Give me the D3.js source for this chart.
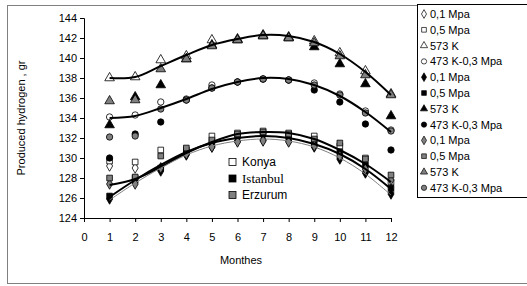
<!DOCTYPE html>
<meta charset="utf-8">
<head>
  <title>Produced hydrogen by month</title>
  <script src="https://cdn.jsdelivr.net/npm/d3@7"></script>
  <style>
    body { margin: 0; background: #fff; }
    text { font-family: "Liberation Sans", Arial, sans-serif; font-size: 11px; fill: #000; }
    .axis path, .axis line { stroke: #000; }
  </style>
</head>
<body>
<div id="chart"></div>
<script>
  // data
  var months = [1, 2, 3, 4, 5, 6, 7, 8, 9, 10, 11, 12];
  var xTicks = [0, 1, 2, 3, 4, 5, 6, 7, 8, 9, 10, 11, 12];
  var yTicks = [124, 126, 128, 130, 132, 134, 136, 138, 140, 142, 144];

  // Konya (white markers)
  var konyaP01 = [129.2, 129.0, 129.0, 130.4, 131.2, 131.7, 131.8, 131.8, 131.3, 130.1, 128.6, 126.6];
  var konyaP05 = [129.7, 129.6, 130.8, 130.8, 132.2, 132.5, 132.7, 132.5, 132.2, 131.2, 130.0, 127.6];
  var konyaK573 = [138.0, 138.1, 139.8, 140.2, 141.8, 141.9, 142.3, 142.1, 141.7, 140.5, 138.7, 136.4];
  var konyaK473 = [134.1, 134.3, 135.6, 135.9, 137.3, 137.6, 137.9, 137.8, 137.5, 136.4, 134.7, 132.8];
  // Istanbul (black markers)
  var istanbulP01 = [125.9, 127.6, 128.7, 130.3, 131.1, 131.7, 131.8, 131.7, 131.1, 129.9, 128.5, 126.4];
  var istanbulP05 = [126.2, 128.0, 129.0, 130.6, 131.6, 132.2, 132.4, 132.2, 131.6, 130.6, 129.3, 127.0];
  var istanbulK573 = [133.3, 136.1, 137.3, 139.9, 141.3, 141.8, 142.2, 142.0, 141.1, 139.4, 137.4, 134.2];
  var istanbulK473 = [130.0, 132.4, 133.6, 135.8, 137.0, 137.6, 137.9, 137.8, 136.8, 135.6, 133.4, 130.8];
  // Erzurum (grey markers)
  var erzurumP01 = [127.4, 127.4, 129.0, 130.4, 131.1, 131.6, 131.7, 131.6, 131.2, 130.2, 128.9, 127.8];
  var erzurumP05 = [128.0, 128.1, 130.2, 131.0, 131.8, 132.4, 132.6, 132.4, 131.9, 131.5, 129.9, 128.3];
  var erzurumK573 = [135.7, 135.8, 138.9, 139.9, 141.2, 141.8, 142.2, 142.0, 141.5, 140.2, 138.3, 136.3];
  var erzurumK473 = [132.1, 132.2, 134.9, 135.8, 137.0, 137.6, 137.9, 137.8, 137.3, 136.3, 134.5, 132.7];

  // trend curves
  var trendK573 = [138.0, 138.1, 139.2, 140.3, 141.3, 141.9, 142.3, 142.2, 141.6, 140.4, 138.6, 136.3];
  var trendK473 = [134.0, 134.2, 135.0, 135.9, 136.9, 137.6, 138.0, 137.9, 137.3, 136.2, 134.6, 132.6];
  var trendLowA = [127.3, 127.9, 129.1, 130.5, 131.6, 132.4, 132.6, 132.5, 131.9, 130.8, 129.4, 127.6];
  var trendLowB = [126.1, 127.8, 129.3, 130.6, 131.5, 132.0, 132.2, 132.0, 131.4, 130.4, 128.9, 126.9];
  var trendLowC = [125.8, 127.5, 129.0, 130.3, 131.2, 131.7, 131.9, 131.7, 131.1, 130.0, 128.4, 126.3];

  var conditions = ["0,1 Mpa", "0,5 Mpa", "573 K", "473 K-0,3 Mpa"];
  var cities = ["Konya", "Istanbul", "Erzurum"];

  var w = 527, h = 286;
  var svg = d3.select("#chart").append("svg").attr("width", w).attr("height", h);

  var x = d3.scaleLinear().domain([0, 12]).range([84, 391]);
  var y = d3.scaleLinear().domain([124, 144]).range([218, 18]);

  var cityFill = { "Konya": "#fff", "Istanbul": "#000", "Erzurum": "#808080" };
  var symbols = [d3.symbolDiamond, d3.symbolSquare, d3.symbolTriangle, d3.symbolCircle];

  var series = [
    { city: "Konya", c: 0, values: konyaP01 }, { city: "Konya", c: 1, values: konyaP05 },
    { city: "Konya", c: 2, values: konyaK573 }, { city: "Konya", c: 3, values: konyaK473 },
    { city: "Istanbul", c: 0, values: istanbulP01 }, { city: "Istanbul", c: 1, values: istanbulP05 },
    { city: "Istanbul", c: 2, values: istanbulK573 }, { city: "Istanbul", c: 3, values: istanbulK473 },
    { city: "Erzurum", c: 0, values: erzurumP01 }, { city: "Erzurum", c: 1, values: erzurumP05 },
    { city: "Erzurum", c: 2, values: erzurumK573 }, { city: "Erzurum", c: 3, values: erzurumK473 }
  ];

  // outer frame
  svg.append("rect").attr("x", 7.5).attr("y", 5.5).attr("width", 530).attr("height", 278)
    .attr("fill", "none").attr("stroke", "#808080");

  // axes
  svg.append("g").attr("class", "axis").attr("transform", "translate(84,0)")
    .call(d3.axisLeft(y).tickValues(yTicks).tickSize(4).tickPadding(3));
  svg.append("g").attr("class", "axis").attr("transform", "translate(0,218)")
    .call(d3.axisBottom(x).tickValues(xTicks).tickSize(4).tickPadding(11));
  svg.selectAll(".axis .domain").attr("stroke-width", 1);

  // markers
  var sym = d3.symbol();
  series.forEach(function (s) {
    svg.append("g").selectAll("path").data(s.values).enter().append("path")
      .attr("transform", function (d, i) { return "translate(" + x(months[i]) + "," + y(d) + ")"; })
      .attr("d", sym.type(symbols[s.c]).size(s.c === 2 ? 40 : 32)())
      .attr("fill", cityFill[s.city]).attr("stroke", "#000").attr("stroke-width", 0.8);
  });

  // trend curves
  var line = d3.line().x(function (d, i) { return x(months[i]); }).y(function (d) { return y(d); })
    .curve(d3.curveCatmullRom);
  [[trendK573, "#000", 2], [trendK473, "#000", 2], [trendLowA, "#000", 2],
   [trendLowB, "#000", 2], [trendLowC, "#808080", 1]].forEach(function (t) {
    svg.append("path").attr("d", line(t[0])).attr("fill", "none")
      .attr("stroke", t[1]).attr("stroke-width", t[2]);
  });

  // axis titles
  svg.append("text").attr("transform", "translate(25,118) rotate(-90)")
    .attr("text-anchor", "middle").text("Produced hydrogen , gr");
  svg.append("text").attr("x", 241).attr("y", 264).attr("text-anchor", "middle").text("Monthes");

  // city legend inside plot
  var cl = svg.append("g");
  cities.forEach(function (c, i) {
    var yy = 162 + i * 16.5;
    cl.append("rect").attr("x", 229).attr("y", yy - 3.5).attr("width", 7).attr("height", 7)
      .attr("fill", cityFill[c]).attr("stroke", "#000").attr("stroke-width", 0.8);
    cl.append("text").attr("x", 242).attr("y", yy + 4)
      .style("font-family", c === "Istanbul" ? "'Liberation Serif', serif" : null)
      .style("font-size", c === "Istanbul" ? "13px" : "12px").text(c);
  });

  // series legend on the right
  svg.append("rect").attr("x", 417.5).attr("y", 4.5).attr("width", 120).attr("height", 193)
    .attr("fill", "#fff").attr("stroke", "#000");
  var lg = svg.append("g");
  cities.forEach(function (c, ci) {
    conditions.forEach(function (cond, k) {
      var yy = 14 + (ci * 4 + k) * 15.8;
      lg.append("path").attr("transform", "translate(424," + yy + ")")
        .attr("d", sym.type(symbols[k]).size(22)())
        .attr("fill", cityFill[c]).attr("stroke", "#000").attr("stroke-width", 0.7);
      lg.append("text").attr("x", 430).attr("y", yy + 4).text(cond);
    });
  });
</script>
</body>
</html>
